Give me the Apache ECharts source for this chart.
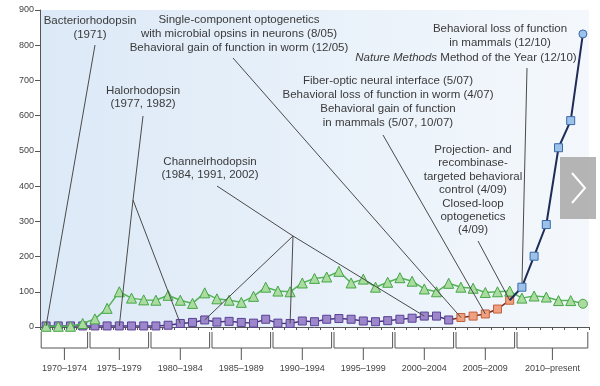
<!DOCTYPE html>
<html><head><meta charset="utf-8">
<script src="https://cdn.jsdelivr.net/npm/echarts@6/dist/echarts.min.js"></script>
<style>html,body{margin:0;padding:0;background:#fff}#c{width:600px;height:386px}</style>
</head><body><div id="c"></div>
<script>
// ---- data ----
const years = ['1971','1972','1973','1974','1975','1976','1977','1978','1979','1980',
  '1981','1982','1983','1984','1985','1986','1987','1988','1989','1990',
  '1991','1992','1993','1994','1995','1996','1997','1998','1999','2000',
  '2001','2002','2003','2004','2005','2006','2007','2008','2009','2010',
  '2011','2012','2013','2014','2015'];
const greenVals = [2,2,2,10,23,53,100,82,77,76,90,76,67,97,80,76,70,87,113,102,
  100,125,138,142,158,125,136,113,127,140,130,108,100,124,113,110,98,100,102,82,
  88,85,75,75,66];
const purpleVals = [3,3,3,3,3,3,3,3,3,3,5,10,13,20,14,16,13,11,22,11,
  10,17,15,22,24,22,17,15,18,22,25,31,31,20];          // 1971-2004
const orangeVals = [27,31,37,51,76];                      // 2005-2009
const blueVals = [113,201,291,509,586,832];               // 2010-2015
const yTicks = [0,100,200,300,400,500,600,700,800,900];
const bracketLabels = ['1970\u20131974','1975\u20131979','1980\u20131984','1985\u20131989',
  '1990\u20131994','1995\u20131999','2000\u20132004','2005\u20132009','2010\u2013present'];
const bracketStart = [0,4,9,14,19,24,29,34,39];
const bracketEnd   = [3,8,13,18,23,28,33,38,44];

// ---- build series data ----
const n = years.length;
const purpleData = years.map((y,i)=> i < purpleVals.length ? purpleVals[i] : null);
const orangeStart = purpleVals.length;
const orangeData = years.map((y,i)=>{
  if (i === orangeStart-1) return {value: purpleVals[i], symbol:'none'};
  if (i >= orangeStart && i < orangeStart+orangeVals.length) return orangeVals[i-orangeStart];
  return null;
});
const blueStart = orangeStart + orangeVals.length;
const blueData = years.map((y,i)=>{
  if (i === blueStart-1) return {value: orangeVals[orangeVals.length-1], symbol:'none'};
  if (i >= blueStart) {
    const v = blueVals[i-blueStart];
    return i === n-1 ? {value:v, symbol:'circle', symbolSize:8} : v;
  }
  return null;
});
const greenData = greenVals.map((v,i)=> i === n-1 ? {value:v, symbol:'circle', symbolSize:9} : v);

const FONT = 'Liberation Sans, Arial, sans-serif';
const TXT = '#3a3a3a';
const FS = 11.5;
const pc = i => ({coord:[years[i], purpleVals[i]]});
const oc = i => ({coord:[years[i], orangeVals[i-orangeStart]]});

const chart = echarts.init(document.getElementById('c'), null, {renderer:'canvas'});
const ann = (text, x, y, lh, extra) => Object.assign({
  type:'text', z:50, silent:true,
  style: Object.assign({text, x, y, textAlign:'center', textVerticalAlign:'middle',
    fill: TXT, fontSize: FS, fontFamily: FONT, lineHeight: lh}, extra||{})
});

chart.setOption({
  animation:false,
  backgroundColor:'#ffffff',
  grid:{left:40, right:11, top:10, bottom:59, show:true, borderWidth:0,
    backgroundColor: new echarts.graphic.LinearGradient(0,0,1,0,[
      {offset:0,color:'#dce9f7'},{offset:1,color:'#f4f8fc'}])},
  xAxis:{type:'category', data:years, boundaryGap:true,
    axisLine:{show:true, lineStyle:{color:'#555', width:1}},
    axisTick:{show:true, interval:0, length:3, lineStyle:{color:'#555'}},
    axisLabel:{show:false}, splitLine:{show:false}},
  yAxis:{type:'value', min:0, max:900, interval:100,
    axisLine:{show:true, lineStyle:{color:'#555'}},
    axisTick:{show:true, length:5, lineStyle:{color:'#555'}},
    axisLabel:{color:'#444', fontSize:9, fontFamily:FONT, margin:6,
      formatter: v => yTicks.includes(v) ? String(v) : ''},
    splitLine:{show:false}},
  series:[
    {type:'line', name:'purple', data:purpleData, z:3,
      symbol:'rect', symbolSize:8, showAllSymbol:true,
      lineStyle:{color:'#4b3283', width:1.5},
      itemStyle:{color:'#9b87c9', borderColor:'#5a4196', borderWidth:1},
      markLine:{silent:true, symbol:['none','none'], label:{show:false},
        lineStyle:{color:'#4a4a4a', width:1, type:'solid'}, emphasis:{disabled:true},
        data:[
          [{x:95,y:45}, pc(0)],
          [{x:143,y:116},{x:133,y:200}],
          [{x:133,y:200}, pc(6)],
          [{x:133,y:200}, pc(11)],
          [{x:217,y:186},{x:293,y:236}],
          [{x:293,y:236}, pc(13)],
          [{x:293,y:236}, pc(20)],
          [{x:293,y:236}, pc(31)],
          [{x:233,y:58}, oc(34)],
          [{x:383,y:135}, oc(36)],
          [{x:478,y:241}, oc(38)],
          [{x:527,y:68}, {coord:[years[blueStart], blueVals[0]]}]
        ]}},
    {type:'line', name:'orange', data:orangeData, z:3,
      symbol:'rect', symbolSize:8, showAllSymbol:true, connectNulls:false,
      lineStyle:{color:'#7a2e1c', width:1.5},
      itemStyle:{color:'#f0a07e', borderColor:'#c0603e', borderWidth:1}},
    {type:'line', name:'green', data:greenData, z:4,
      symbol:'triangle', symbolSize:10, showAllSymbol:true,
      lineStyle:{color:'#55b357', width:1.5},
      itemStyle:{color:'#a9dc9e', borderColor:'#46a548', borderWidth:1}},
    {type:'line', name:'blue', data:blueData, z:5,
      symbol:'rect', symbolSize:8, showAllSymbol:true,
      lineStyle:{color:'#1f2c57', width:2},
      itemStyle:{color:'#9cc2ea', borderColor:'#3a6aa8', borderWidth:1}},
    {type:'custom', name:'brackets', silent:true, clip:false, z:1,
      data: bracketStart.map(s=>[s,0]),
      renderItem(params, api){
        const i = params.dataIndex;
        const bw = api.size([1,0])[0];
        const p0 = api.coord([bracketStart[i], 0]);
        const p1 = api.coord([bracketEnd[i], 0]);
        const x0 = p0[0]-bw/2+1.2, x1 = p1[0]+bw/2-1.2, base = p0[1];
        const yl = base+21, yt = base+5, yb = base+33, ylab = base+42;
        const xm = (x0+x1)/2;
        return {type:'group', children:[
          {type:'polyline', shape:{points:[[x0,yt],[x0,yl],[x1,yl],[x1,yt]]},
            style:{stroke:'#555', fill:null, lineWidth:1}},
          {type:'line', shape:{x1:xm,y1:yl,x2:xm,y2:yb}, style:{stroke:'#555', lineWidth:1}},
          {type:'text', style:{text:bracketLabels[i], x:xm, y:ylab, textAlign:'center',
            textVerticalAlign:'middle', fill:'#444', fontSize:9, fontFamily:FONT}}
        ]};
      }}
  ],
  graphic:[
    ann('Bacteriorhodopsin\n(1971)', 90, 28, 14),
    ann('Halorhodopsin\n(1977, 1982)', 143, 97.5, 13.5),
    ann('Channelrhodopsin\n(1984, 1991, 2002)', 210, 168.5, 13.5),
    ann('Single-component optogenetics\nwith microbial opsins in neurons (8/05)\nBehavioral gain of function in worm (12/05)', 239, 34, 14),
    ann('Fiber-optic neural interface (5/07)\nBehavioral loss of function in worm (4/07)\nBehavioral gain of function\nin mammals (5/07, 10/07)', 388, 102, 14),
    ann('Projection- and\nrecombinase-\ntargeted behavioral\ncontrol (4/09)\nClosed-loop\noptogenetics\n(4/09)', 473, 190, 13.4),
    ann('Behavioral loss of function\nin mammals (12/10)', 500, 36, 14.5),
    ann('{i|Nature Methods} Method of the Year (12/10)', 466, 58, 14,
      {rich:{i:{fontStyle:'italic', fontSize:FS, fontFamily:FONT, fill:TXT}}}),
    {type:'rect', z:60, silent:true, shape:{x:560,y:157,width:36,height:62},
      style:{fill:'rgba(168,168,168,0.85)'}},
    {type:'polyline', z:61, silent:true,
      shape:{points:[[572,173],[585,188],[572,203]]},
      style:{stroke:'#ffffff', lineWidth:2, fill:null}}
  ]
});
</script></body></html>
